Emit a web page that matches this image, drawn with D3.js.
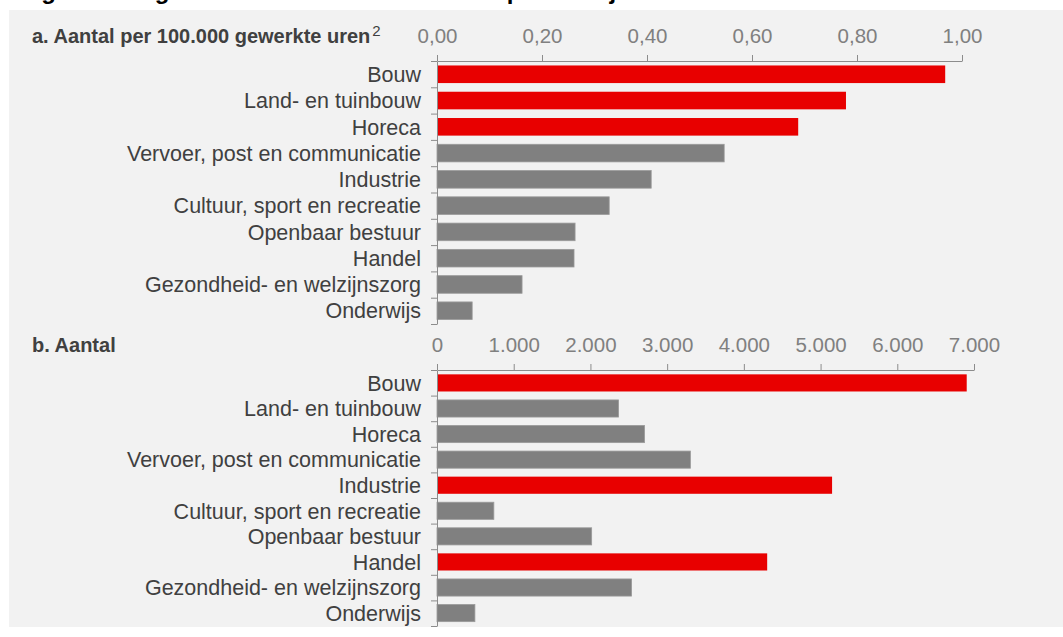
<!DOCTYPE html>
<html>
<head>
<meta charset="utf-8">
<script src="https://cdn.jsdelivr.net/npm/d3@7"></script>
<style>
  body { margin: 0; background: #fff; }
  svg { display: block; font-family: "Liberation Sans", Arial, sans-serif; }
  .axis path, .axis line { stroke: #8c8c8c; }
  .axis text { fill: #808080; font-size: 20.5px; }
  .cat { fill: #404040; font-size: 21.5px; }
  .ptitle { fill: #404040; font-size: 20px; font-weight: bold; }
</style>
</head>
<body>
<div id="chart"></div>
<script>
const categories = [
  "Bouw", "Land- en tuinbouw", "Horeca", "Vervoer, post en communicatie",
  "Industrie", "Cultuur, sport en recreatie", "Openbaar bestuur", "Handel",
  "Gezondheid- en welzijnszorg", "Onderwijs"
];

// a. per 100.000 gewerkte uren
const perUurValues = [0.968, 0.779, 0.688, 0.547, 0.408, 0.328, 0.263, 0.261, 0.162, 0.067];
const perUurHighlight = [true, true, true, false, false, false, false, false, false, false];
const perUurTicks = [0, 0.2, 0.4, 0.6, 0.8, 1.0];

// b. aantal
const aantalValues = [6905, 2367, 2705, 3303, 5150, 741, 2016, 4304, 2536, 494];
const aantalHighlight = [true, false, false, false, true, false, false, true, false, false];
const aantalTicks = [0, 1000, 2000, 3000, 4000, 5000, 6000, 7000];

const RED = "#e80000", GREY = "#808080";
const W = 1063, H = 637;

const svg = d3.select("#chart").append("svg")
    .attr("width", W)
    .attr("height", H);

// title, clipped by the top of the image
svg.append("text")
    .attr("x", 20)
    .attr("y", -1)
    .attr("font-size", 24)
    .attr("font-weight", "bold")
    .attr("fill", "#000")
    .text("Figuur 4 Ongevallen met letsel en verzuim per bedrijfstak");

svg.append("rect")
    .attr("x", 9).attr("y", 10)
    .attr("width", W - 9).attr("height", 617)
    .attr("fill", "#f2f2f2");

const fmtA = v => d3.format(".2f")(v).replace(".", ",");
const fmtB = v => d3.format(",")(v).replace(/,/g, ".");

function panel(opt) {
  const x = d3.scaleLinear().domain(opt.domain).range([437, opt.xEnd]);
  const y = d3.scaleBand().domain(categories).range([opt.top, opt.bottom]).paddingInner(0.33).paddingOuter(0.17);
  const yb = d3.scaleLinear().domain([0, categories.length]).range([opt.top, opt.bottom]);

  const g = svg.append("g");

  g.append("g")
      .selectAll("rect")
      .data(categories)
      .join("rect")
      .attr("x", x(0))
      .attr("y", d => y(d))
      .attr("width", (d, i) => x(opt.values[i]) - x(0))
      .attr("height", y.bandwidth())
      .attr("fill", (d, i) => opt.highlight[i] ? RED : GREY)
      .attr("stroke", (d, i) => opt.highlight[i] ? "none" : "#9a9a9a")
      .attr("stroke-width", 0.8);

  g.append("g")
      .attr("class", "axis")
      .attr("transform", "translate(0," + opt.top + ")")
      .call(d3.axisTop(x).tickValues(opt.ticks).tickFormat(opt.fmt).tickSize(6).tickSizeOuter(0).tickPadding(12));

  g.append("g")
      .attr("class", "axis")
      .attr("transform", "translate(" + x(0) + ",0)")
      .call(d3.axisLeft(yb).tickValues(d3.range(categories.length + 1)).tickFormat("").tickSize(6).tickSizeOuter(0));

  g.append("g")
      .selectAll("text")
      .data(categories)
      .join("text")
      .attr("class", "cat")
      .attr("x", 421)
      .attr("y", d => y(d) + y.bandwidth() / 2)
      .attr("dy", "0.36em")
      .attr("text-anchor", "end")
      .text(d => d);

  const t = g.append("text")
      .attr("class", "ptitle")
      .attr("x", 32)
      .attr("y", opt.top - 18)
      .text(opt.title);
  if (opt.sup) {
    t.append("tspan")
        .attr("font-weight", "normal")
        .attr("font-size", 15)
        .attr("dx", 2)
        .attr("dy", "-0.5em")
        .text(opt.sup);
  }
}

panel({
  title: "a. Aantal per 100.000 gewerkte uren", sup: "2",
  domain: [0, 1], xEnd: 962, ticks: perUurTicks, fmt: fmtA,
  values: perUurValues, highlight: perUurHighlight,
  top: 61, bottom: 324
});

panel({
  title: "b. Aantal",
  domain: [0, 7000], xEnd: 974, ticks: aantalTicks, fmt: fmtB,
  values: aantalValues, highlight: aantalHighlight,
  top: 370, bottom: 626
});
</script>
</body>
</html>
